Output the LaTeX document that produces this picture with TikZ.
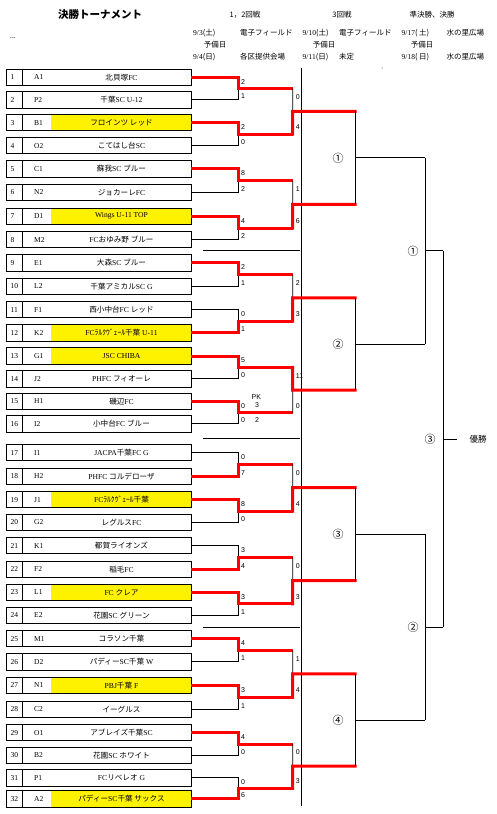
\documentclass[tikz,border=0pt]{standalone}
\usepackage{fontspec}
\setmainfont{Liberation Serif}
\newfontfamily\jpf{Noto Sans CJK JP}
\newfontfamily\scf{Liberation Sans}
\newcommand\J[1]{{\jpf #1}}
\usetikzlibrary{calc}
\begin{document}
\begin{tikzpicture}[x=1pt,y=-1pt,
  teambox/.style={draw,line width=0.9pt,minimum width=184.5pt,minimum height=16.3pt,inner sep=0pt},
  numt/.style={anchor=west,inner sep=0pt,font=\fontsize{7.5}{8}\selectfont},
  namet/.style={inner sep=0pt,font=\fontsize{7.6}{8}\selectfont},
  score/.style={anchor=west,inner sep=0pt,font=\scf\fontsize{7}{7}\selectfont},
  redln/.style={draw=red,line width=3pt,line join=miter},
  redcap/.style={redln,line cap=rect},
  blkln/.style={draw=black,line width=0.9pt},
  hdr/.style={inner sep=0pt,font=\fontsize{7.5}{8}\selectfont},
  hdrw/.style={hdr,anchor=west},
  circ/.style={inner sep=0pt,font=\jpf\fontsize{11}{12}\selectfont}
]
\useasboundingbox (0,0) rectangle (497,814);
% header
\node[font=\jpf\bfseries\fontsize{10.5}{12}\selectfont] (title) at (100,15) {決勝トーナメント};
\node[hdr] (dots) at (13,38) {...};
\node[hdr] (h1) at (245,15) {\J{1，2回戦}};
\node[hdr] (h2) at (342,15) {\J{3回戦}};
\node[hdr] (h3) at (432,15) {\J{準決勝、決勝}};
\node[hdrw] (d1) at (193,33) {9/3\J{(土)}};
\node[hdrw] (f1) at (240,33) {\J{電子フィールド}};
\node[hdrw] (d2) at (302.5,33) {9/10\J{(土)}};
\node[hdrw] (f2) at (339,33) {\J{電子フィールド}};
\node[hdrw] (d3) at (401.5,33) {9/17\J{( 土)}};
\node[hdrw] (f3) at (446.5,33) {\J{水の里広場}};
\node[hdr] (y1) at (215,44.5) {\J{予備日}};
\node[hdr] (y2) at (324,44.5) {\J{予備日}};
\node[hdr] (y3) at (422,44.5) {\J{予備日}};
\node[hdrw] (d4) at (193,56.7) {9/4\J{(日)}};
\node[hdrw] (f4) at (240,56.7) {\J{各区提供会場}};
\node[hdrw] (d5) at (302.5,56.7) {9/11\J{(日)}};
\node[hdrw] (f5) at (339,56.7) {\J{未定}};
\node[hdrw] (d6) at (401.5,56.7) {9/18\J{( 日)}};
\node[hdrw] (f6) at (446.5,56.7) {\J{水の里広場}};
\fill (382,68) circle (0.5);
% separators
\draw[blkln] (301.5,68) -- (301.5,806);
\draw[blkln] (203,250.7) -- (300,250.7);
\draw[blkln] (203,438.3) -- (300,438.3);
\draw[blkln] (203,627.5) -- (300,627.5);
% teams
\foreach \i/\yy/\cd/\nm/\fl in {
 1/77.3/A1/{\J{北貝塚}FC}/0,
 2/99.8/P2/{\J{千葉}SC U-12}/0,
 3/122.7/B1/{\J{フロインツ レッド}}/1,
 4/145.7/O2/{\J{こてはし台}SC}/0,
 5/168.8/C1/{\J{蘇我}SC \J{ブルー}}/0,
 6/192.5/N2/{\J{ジョカーレ}FC}/0,
 7/216.3/D1/{Wings U-11 TOP}/1,
 8/239.7/M2/{FC\J{おゆみ野 ブルー}}/0,
 9/262.9/E1/{\J{大森}SC \J{ブルー}}/0,
 10/286.3/L2/{\J{千葉アミカル}SC G}/0,
 11/309.6/F1/{\J{西小中台}FC \J{レッド}}/0,
 12/332.8/K2/{FC\J{ﾗﾙｸｳﾞｪｰﾙ千葉} U-11}/1,
 13/356.0/G1/{JSC CHIBA}/1,
 14/378.8/J2/{PHFC \J{フィオーレ}}/0,
 15/401.3/H1/{\J{磯辺}FC}/0,
 16/423.9/I2/{\J{小中台}FC \J{ブルー}}/0,
 17/452.7/I1/{JACPA\J{千葉}FC G}/0,
 18/476.2/H2/{PHFC \J{コルデローザ}}/0,
 19/499.6/J1/{FC\J{ﾗﾙｸｳﾞｪｰﾙ千葉}}/1,
 20/522.4/G2/{\J{レグルス}FC}/0,
 21/545.7/K1/{\J{都賀ライオンズ}}/0,
 22/569.2/F2/{\J{稲毛}FC}/0,
 23/592.3/L1/{FC \J{クレア}}/1,
 24/615.5/E2/{\J{花園}SC \J{グリーン}}/0,
 25/638.7/M1/{\J{コラソン千葉}}/0,
 26/661.9/D2/{\J{パディー}SC\J{千葉} W}/0,
 27/685.3/N1/{PBJ\J{千葉} F}/1,
 28/709.3/C2/{\J{イーグルス}}/0,
 29/732.6/O1/{\J{アブレイズ千葉}SC}/0,
 30/755.5/B2/{\J{花園}SC \J{ホワイト}}/0,
 31/777.8/P1/{FC\J{リベレオ} G}/0,
 32/798.8/A2/{\J{パディー}SC\J{千葉 サックス}}/1}{
  \ifnum\fl=1 \fill[yellow] (51,{\yy-8.15}) rectangle (191,{\yy+8.15}); \fi
  \node[teambox] (b\i) at (98.75,\yy) {};
  \draw[blkln] ([xshift=16.8pt]b\i.north west) -- ([xshift=16.8pt]b\i.south west);
  \node[numt] (n\i) at (10.5,\yy) {\i};
  \node[numt] (c\i) at (34,\yy) {\cd};
  \node[namet] (m\i) at (121.5,\yy) {\nm};
  \coordinate (e\i) at (238,\yy);
}
% round 1
\foreach \m/\w/\l/\sa/\sb in {1/1/2/2/1,2/3/4/2/0,3/5/6/8/2,4/7/8/4/2,5/9/10/2/1,6/12/11/0/1,7/13/14/5/0,8/15/16/0/0,9/18/17/0/7,10/19/20/8/0,11/22/21/3/4,12/23/24/3/1,13/25/26/4/1,14/27/28/3/1,15/29/30/4/0,16/32/31/0/6}{
  \pgfmathtruncatemacro\ta{2*\m-1}
  \pgfmathtruncatemacro\tb{2*\m}
  \coordinate (q\m) at ($(e\ta)!0.5!(e\tb)$);
  \coordinate (qq\m) at ($(q\m)+(54.7,0)$);
  \draw[blkln] (b\l.east) -- (e\l) -- (q\m);
  \draw[redln] (b\w.east) -- (e\w) -- (q\m) -- (qq\m);
  \node[score] (sa\m) at ($(e\ta)+(3,4.5)$) {\sa};
  \node[score] (sb\m) at ($(e\tb)+(3,-3.5)$) {\sb};
}
\node[score] (pk) at (251.5,396.7) {PK};
\node[score] (pk3) at (255,405.5) {3};
\node[score] (pk2) at (255,420.5) {2};
% round 2
\foreach \k/\wm/\lm/\sa/\sb in {1/2/1/0/4,2/4/3/1/6,3/6/5/2/3,4/7/8/11/0,5/10/9/0/4,6/12/11/0/3,7/14/13/1/4,8/16/15/0/3}{
  \pgfmathtruncatemacro\ma{2*\k-1}
  \pgfmathtruncatemacro\mb{2*\k}
  \coordinate (s\k) at ($(qq\ma)!0.5!(qq\mb)$);
  \coordinate (ss\k) at ($(s\k)+(62.3,0)$);
  \draw[blkln] (qq\lm) -- (s\k);
  \draw[redcap] (qq\wm) -- (s\k) -- (ss\k);
  \node[score] (ta\k) at ($(qq\ma)+(3,8.5)$) {\sa};
  \node[score] (tb\k) at ($(qq\mb)+(3,-7)$) {\sb};
}
% round 3
\foreach \j/\c in {1/①,2/②,3/③,4/④}{
  \pgfmathtruncatemacro\ka{2*\j-1}
  \pgfmathtruncatemacro\kb{2*\j}
  \coordinate (u\j) at ($(ss\ka)!0.5!(ss\kb)$);
  \coordinate (uu\j) at ($(u\j)+(70,0)$);
  \draw[blkln] (ss\ka) -- (ss\kb);
  \draw[blkln] (u\j) -- (uu\j);
  \node[circ] (ql\j) at ($(u\j)+(-17,0)$) {\c};
}
% semifinals
\foreach \j/\c in {1/①,2/②}{
  \pgfmathtruncatemacro\ka{2*\j-1}
  \pgfmathtruncatemacro\kb{2*\j}
  \coordinate (v\j) at ($(uu\ka)!0.5!(uu\kb)$);
  \coordinate (vv\j) at ($(v\j)+(18,0)$);
  \draw[blkln] (uu\ka) -- (uu\kb);
  \draw[blkln] (v\j) -- (vv\j);
  \node[circ] (sl\j) at ($(v\j)+(-12,0)$) {\c};
}
% final
\coordinate (w) at ($(vv1)!0.5!(vv2)$);
\coordinate (ww) at ($(w)+(14,0)$);
\draw[blkln] (vv1) -- (vv2);
\draw[blkln] (w) -- (ww);
\node[circ] (fl) at ($(w)+(-13,0)$) {③};
\node[inner sep=0pt,font=\jpf\fontsize{8.5}{9}\selectfont] (champ) at ($(w)+(35,0)$) {優勝};
\end{tikzpicture}
\end{document}
